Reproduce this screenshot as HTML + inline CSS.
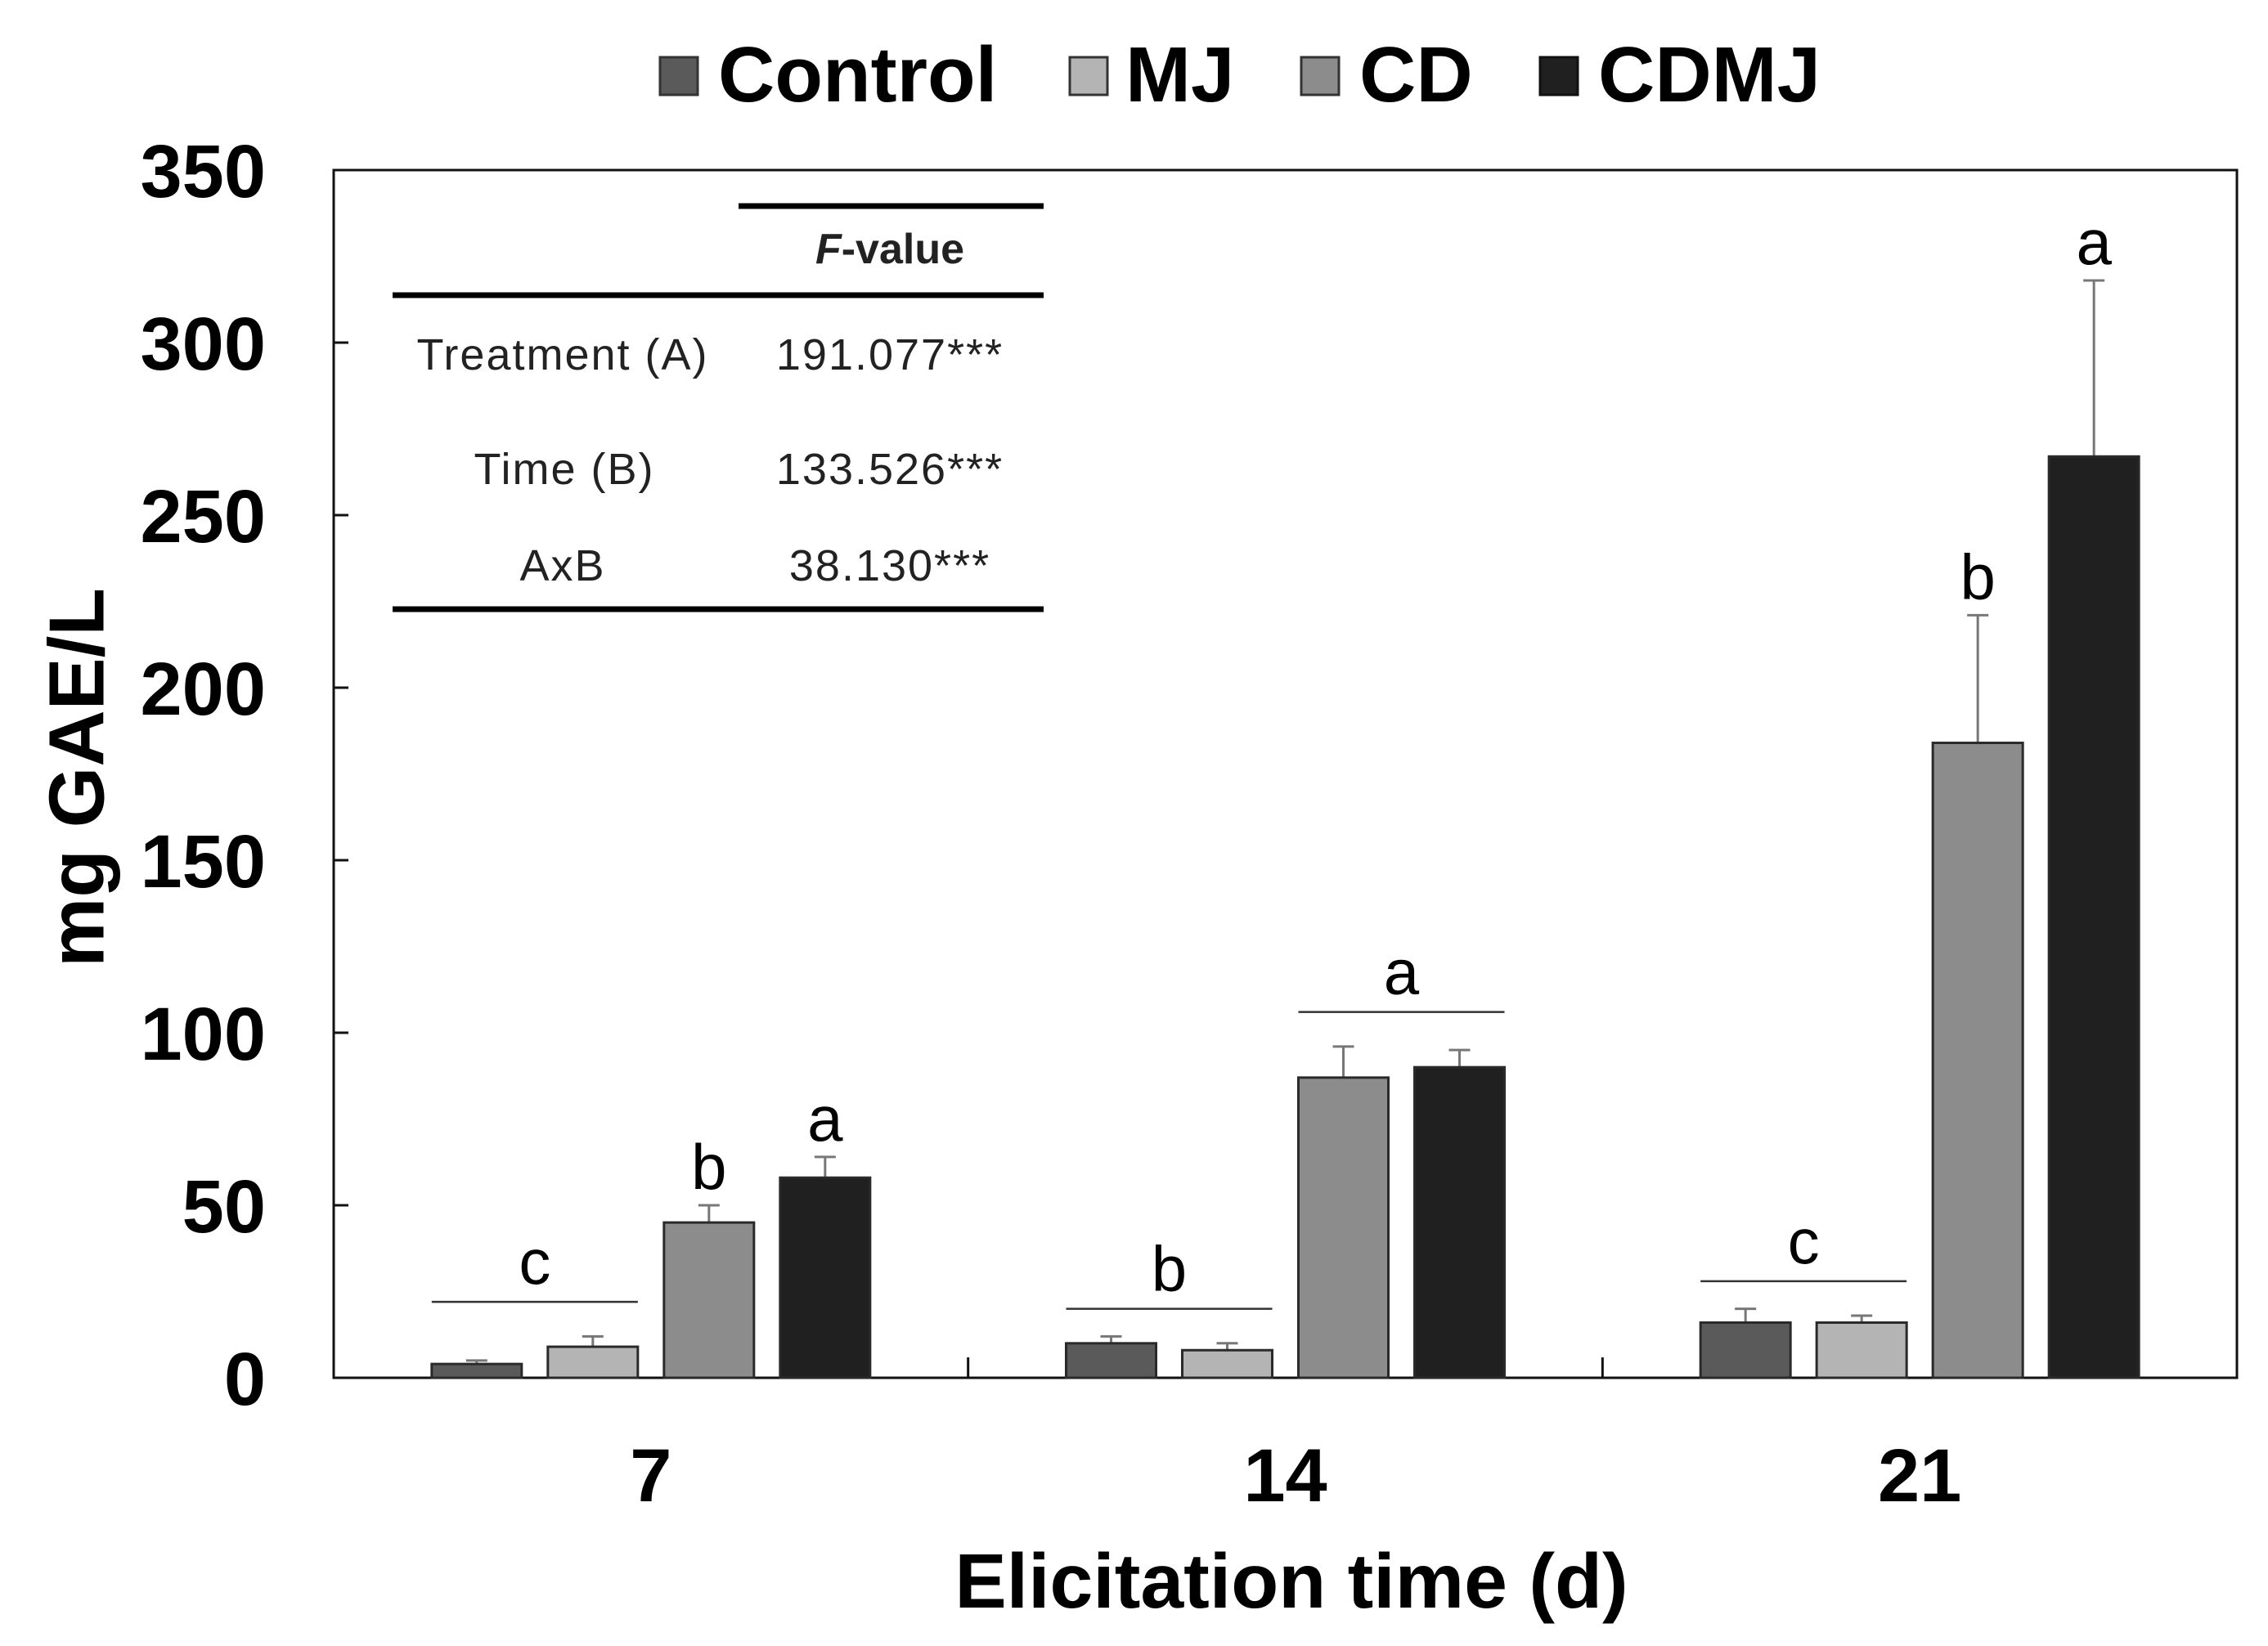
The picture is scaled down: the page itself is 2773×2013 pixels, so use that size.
<!DOCTYPE html>
<html><head><meta charset="utf-8"><style>
html,body{margin:0;padding:0;background:#fff}
svg{display:block}
text{font-family:"Liberation Sans",Arial,sans-serif}
</style></head><body>
<svg id="chart" width="2773" height="2013" viewBox="0 0 2773 2013">
<g id="legend">
  <g><rect x="807" y="70" width="46" height="46" fill="#5a5a5a" stroke="#333" stroke-width="3"/><text x="878" y="124" font-size="96" font-weight="bold">Control</text></g>
  <g><rect x="1308" y="70" width="46" height="46" fill="#b4b4b4" stroke="#333" stroke-width="3"/><text x="1376" y="124" font-size="96" font-weight="bold">MJ</text></g>
  <g><rect x="1591" y="70" width="46" height="46" fill="#8c8c8c" stroke="#333" stroke-width="3"/><text x="1662" y="124" font-size="96" font-weight="bold">CD</text></g>
  <g><rect x="1883" y="70" width="46" height="46" fill="#202020" stroke="#111" stroke-width="3"/><text x="1954" y="124" font-size="96" font-weight="bold">CDMJ</text></g>
</g>
<rect x="408" y="208" width="2327" height="1477" fill="none" stroke="#111" stroke-width="3"/>
<g id="yaxis"></g>
<g id="xaxis"></g>
<g id="bars"></g>
<text x="101" y="951" font-size="96" font-weight="bold" text-anchor="middle" transform="rotate(-90 101 951)" dominant-baseline="middle">mg GAE/L</text>
<text x="1579" y="1966" font-size="95" font-weight="bold" text-anchor="middle">Elicitation time (d)</text>
<g id="anova-table">
  <line x1="903" y1="252" x2="1276" y2="252" stroke="#000" stroke-width="7"/>
  <text x="1088" y="322" font-size="52" font-weight="bold" text-anchor="middle" fill="#222"><tspan font-style="italic">F</tspan>-value</text>
  <line x1="480" y1="361" x2="1276" y2="361" stroke="#000" stroke-width="7"/>
  <text x="688" y="452" font-size="54" text-anchor="middle" fill="#222" letter-spacing="2">Treatment (A)</text>
  <text x="1088" y="452" font-size="54" text-anchor="middle" fill="#222" letter-spacing="2">191.077***</text>
  <text x="690" y="592" font-size="54" text-anchor="middle" fill="#222" letter-spacing="2">Time (B)</text>
  <text x="1088" y="592" font-size="54" text-anchor="middle" fill="#222" letter-spacing="2">133.526***</text>
  <text x="688" y="710" font-size="54" text-anchor="middle" fill="#222" letter-spacing="2">AxB</text>
  <text x="1088" y="710" font-size="54" text-anchor="middle" fill="#222" letter-spacing="2">38.130***</text>
  <line x1="480" y1="745" x2="1276" y2="745" stroke="#000" stroke-width="7"/>
</g>
</svg>
<script>
const categories = ["7", "14", "21"];
const seriesNames = ["Control", "MJ", "CD", "CDMJ"];
const control = [4, 10, 16];
const mj = [9, 8, 16];
const cd = [45, 87, 184];
const cdmj = [58, 90, 267];
const controlErr = [1, 2, 4];
const mjErr = [3, 2, 2];
const cdErr = [5, 9, 37];
const cdmjErr = [6, 5, 51];
const yTicks = [0, 50, 100, 150, 200, 250, 300, 350];
const barLetters = [["", "", "b", "a"], ["", "", "", ""], ["", "", "b", "a"]];
const groupLetters = [[0, 0, 1, 22, "c"], [1, 0, 1, 20, "b"], [1, 2, 3, 106, "a"], [2, 0, 1, 28, "c"]];

const NS = "http://www.w3.org/2000/svg";
const X0 = 408, X1 = 2735, Y0 = 1685, Y1 = 208, YMAX = 350;
const catW = (X1 - X0) / categories.length;
const y = v => Y0 - (v / YMAX) * (Y0 - Y1);
const xc = i => X0 + catW * (i + 0.5);
const barStep = 142, barW = 110;
const bx = (i, s) => xc(i) + (s - 1.5) * barStep;
const fills = ["#5a5a5a", "#b4b4b4", "#8c8c8c", "#202020"];
const vals = [control, mj, cd, cdmj];
const errs = [controlErr, mjErr, cdErr, cdmjErr];
function mk(tag, attrs, parent, text) {
  const e = document.createElementNS(NS, tag);
  for (const k in attrs) e.setAttribute(k, attrs[k]);
  if (text !== undefined) e.textContent = text;
  parent.appendChild(e); return e;
}
const ya = document.getElementById("yaxis");
yTicks.forEach(t => {
  const l = mk("line", {x1: X0, x2: X0 + 18, y1: y(t), y2: y(t), stroke: "#111", "stroke-width": 3}, ya);
  
  
  const tx = mk("text", {x: 325, y: y(t) + 33, "font-size": 92, "font-weight": "bold", "text-anchor": "end"}, ya, String(t));
  
  
});
const xa = document.getElementById("xaxis");
categories.forEach((c, i) => {
  const tx = mk("text", {x: xc(i), y: 1836, "font-size": 92, "font-weight": "bold", "text-anchor": "middle"}, xa, c);
  
  
  if (i > 0) {
    const l = mk("line", {x1: X0 + catW * i, x2: X0 + catW * i, y1: Y0, y2: Y0 - 25, stroke: "#111", "stroke-width": 3}, xa);
    
    
  }
});
const bg = document.getElementById("bars");
categories.forEach((c, i) => {
  vals.forEach((arr, s) => {
    const v = arr[i], e = errs[s][i], cx = bx(i, s);
    const el = mk("line", {x1: cx, x2: cx, y1: y(v), y2: y(v + e), stroke: "#777", "stroke-width": 3}, bg);
    
    
    const cap = mk("line", {x1: cx - 13, x2: cx + 13, y1: y(v + e), y2: y(v + e), stroke: "#777", "stroke-width": 3}, bg);
    
    
    const r = mk("rect", {x: cx - barW / 2, y: y(v), width: barW, height: Y0 - y(v), fill: fills[s], stroke: "#2a2a2a", "stroke-width": 3}, bg);
    
    
    const L = barLetters[i][s];
    if (L) {
      const t = mk("text", {x: cx, y: y(v + e) - 20, "font-size": 78, "text-anchor": "middle"}, bg, L);
      
      
    }
  });
});
groupLetters.forEach(g => {
  const [i, s0, s1, lv, L] = g;
  const xa0 = bx(i, s0) - barW / 2, xa1 = bx(i, s1) + barW / 2;
  const l = mk("line", {x1: xa0, x2: xa1, y1: y(lv), y2: y(lv), stroke: "#333", "stroke-width": 2.5}, bg);
  
  
  const t = mk("text", {x: (xa0 + xa1) / 2, y: y(lv) - 22, "font-size": 78, "text-anchor": "middle"}, bg, L);
  
  
});
</script>
</body></html>
